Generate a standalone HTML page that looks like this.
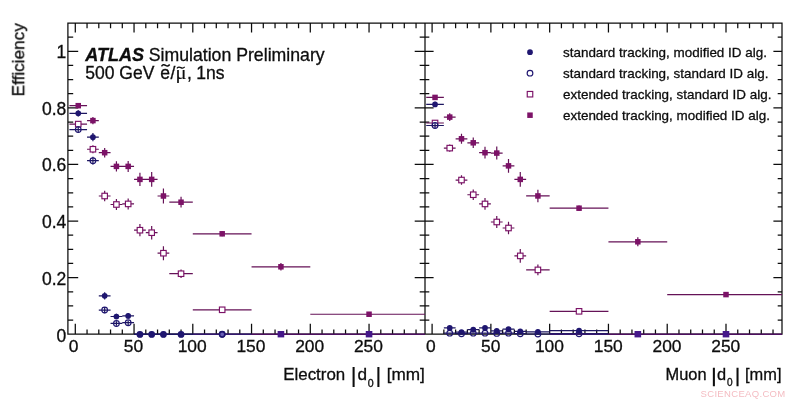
<!DOCTYPE html>
<html><head><meta charset="utf-8"><title>ATLAS efficiency</title>
<style>
html,body{margin:0;padding:0;background:#fff;}
body{width:800px;height:403px;overflow:hidden;font-family:"Liberation Sans",sans-serif;}
svg{display:block;}
</style></head><body>
<svg width="800" height="403" viewBox="0 0 800 403">
<rect width="800" height="403" fill="#fff"/>
<path d="M67.9 23H425V334.2H67.9ZM75.3 334.2v-10.5M75.3 23v9.6M87.05 334.2v-4.7M87.05 23v5.3M98.8 334.2v-4.7M98.8 23v5.3M110.55 334.2v-4.7M110.55 23v5.3M122.3 334.2v-4.7M122.3 23v5.3M134.05 334.2v-10.5M134.05 23v9.6M145.8 334.2v-4.7M145.8 23v5.3M157.55 334.2v-4.7M157.55 23v5.3M169.3 334.2v-4.7M169.3 23v5.3M181.05 334.2v-4.7M181.05 23v5.3M192.8 334.2v-10.5M192.8 23v9.6M204.55 334.2v-4.7M204.55 23v5.3M216.3 334.2v-4.7M216.3 23v5.3M228.05 334.2v-4.7M228.05 23v5.3M239.8 334.2v-4.7M239.8 23v5.3M251.55 334.2v-10.5M251.55 23v9.6M263.3 334.2v-4.7M263.3 23v5.3M275.05 334.2v-4.7M275.05 23v5.3M286.8 334.2v-4.7M286.8 23v5.3M298.55 334.2v-4.7M298.55 23v5.3M310.3 334.2v-10.5M310.3 23v9.6M322.05 334.2v-4.7M322.05 23v5.3M333.8 334.2v-4.7M333.8 23v5.3M345.55 334.2v-4.7M345.55 23v5.3M357.3 334.2v-4.7M357.3 23v5.3M369.05 334.2v-10.5M369.05 23v9.6M380.8 334.2v-4.7M380.8 23v5.3M392.55 334.2v-4.7M392.55 23v5.3M404.3 334.2v-4.7M404.3 23v5.3M416.05 334.2v-4.7M416.05 23v5.3M67.9 320.06h5.3M425 320.06h-5.3M67.9 305.91h5.3M425 305.91h-5.3M67.9 291.76h5.3M425 291.76h-5.3M67.9 277.62h10.3M425 277.62h-10.3M67.9 263.48h5.3M425 263.48h-5.3M67.9 249.33h5.3M425 249.33h-5.3M67.9 235.19h5.3M425 235.19h-5.3M67.9 221.04h10.3M425 221.04h-10.3M67.9 206.89h5.3M425 206.89h-5.3M67.9 192.75h5.3M425 192.75h-5.3M67.9 178.6h5.3M425 178.6h-5.3M67.9 164.46h10.3M425 164.46h-10.3M67.9 150.31h5.3M425 150.31h-5.3M67.9 136.17h5.3M425 136.17h-5.3M67.9 122.03h5.3M425 122.03h-5.3M67.9 107.88h10.3M425 107.88h-10.3M67.9 93.73h5.3M425 93.73h-5.3M67.9 79.59h5.3M425 79.59h-5.3M67.9 65.44h5.3M425 65.44h-5.3M67.9 51.3h10.3M425 51.3h-10.3M67.9 37.15h5.3M425 37.15h-5.3M425 23H782V334.2H425ZM432.1 334.2v-10.5M432.1 23v9.6M443.86 334.2v-4.7M443.86 23v5.3M455.61 334.2v-4.7M455.61 23v5.3M467.37 334.2v-4.7M467.37 23v5.3M479.12 334.2v-4.7M479.12 23v5.3M490.88 334.2v-10.5M490.88 23v9.6M502.64 334.2v-4.7M502.64 23v5.3M514.39 334.2v-4.7M514.39 23v5.3M526.15 334.2v-4.7M526.15 23v5.3M537.9 334.2v-4.7M537.9 23v5.3M549.66 334.2v-10.5M549.66 23v9.6M561.42 334.2v-4.7M561.42 23v5.3M573.17 334.2v-4.7M573.17 23v5.3M584.93 334.2v-4.7M584.93 23v5.3M596.68 334.2v-4.7M596.68 23v5.3M608.44 334.2v-10.5M608.44 23v9.6M620.2 334.2v-4.7M620.2 23v5.3M631.95 334.2v-4.7M631.95 23v5.3M643.71 334.2v-4.7M643.71 23v5.3M655.46 334.2v-4.7M655.46 23v5.3M667.22 334.2v-10.5M667.22 23v9.6M678.98 334.2v-4.7M678.98 23v5.3M690.73 334.2v-4.7M690.73 23v5.3M702.49 334.2v-4.7M702.49 23v5.3M714.24 334.2v-4.7M714.24 23v5.3M726 334.2v-10.5M726 23v9.6M737.76 334.2v-4.7M737.76 23v5.3M749.51 334.2v-4.7M749.51 23v5.3M761.27 334.2v-4.7M761.27 23v5.3M773.02 334.2v-4.7M773.02 23v5.3M425 320.06h4.3M782 320.06h-4.3M425 305.91h4.3M782 305.91h-4.3M425 291.76h4.3M782 291.76h-4.3M425 277.62h8.6M782 277.62h-8.6M425 263.48h4.3M782 263.48h-4.3M425 249.33h4.3M782 249.33h-4.3M425 235.19h4.3M782 235.19h-4.3M425 221.04h8.6M782 221.04h-8.6M425 206.89h4.3M782 206.89h-4.3M425 192.75h4.3M782 192.75h-4.3M425 178.6h4.3M782 178.6h-4.3M425 164.46h8.6M782 164.46h-8.6M425 150.31h4.3M782 150.31h-4.3M425 136.17h4.3M782 136.17h-4.3M425 122.03h4.3M782 122.03h-4.3M425 107.88h8.6M782 107.88h-8.6M425 93.73h4.3M782 93.73h-4.3M425 79.59h4.3M782 79.59h-4.3M425 65.44h4.3M782 65.44h-4.3M425 51.3h8.6M782 51.3h-8.6M425 37.15h4.3M782 37.15h-4.3" fill="none" stroke="#0c0c0c" stroke-width="1.25"/>
<clipPath id="cp0"><rect x="67.9" y="23.0" width="357.1" height="316.0"/></clipPath>
<g clip-path="url(#cp0)">
<path d="M69.42 105.68H87.05M78.24 103.42V107.94M87.05 120.6H98.8M92.92 117.07V124.13M98.8 152.69H110.55M104.67 147.95V157.44M110.55 166.39H122.3M116.42 161.31V171.48M122.3 166.39H134.05M128.18 160.88V171.9M134.05 179.39H145.8M139.93 172.69V186.08M145.8 179.39H157.55M151.68 172.04V186.73M157.55 196H169.3M163.43 188.51V203.49M169.3 202.21H192.8M181.05 196.85V207.58M192.8 233.8H251.55M222.18 231.25V236.34M251.55 266.79H310.3M280.93 263.12V270.47M310.3 314.23H425M369.05 312.25V316.2" fill="none" stroke="#651257" stroke-width="1.2"/>
<rect x="75.49" y="102.93" width="5.5" height="5.5" fill="#7c1267"/>
<rect x="90.17" y="117.85" width="5.5" height="5.5" fill="#7c1267"/>
<rect x="101.92" y="149.94" width="5.5" height="5.5" fill="#7c1267"/>
<rect x="113.67" y="163.64" width="5.5" height="5.5" fill="#7c1267"/>
<rect x="125.43" y="163.64" width="5.5" height="5.5" fill="#7c1267"/>
<rect x="137.18" y="176.64" width="5.5" height="5.5" fill="#7c1267"/>
<rect x="148.93" y="176.64" width="5.5" height="5.5" fill="#7c1267"/>
<rect x="160.68" y="193.25" width="5.5" height="5.5" fill="#7c1267"/>
<rect x="178.3" y="199.46" width="5.5" height="5.5" fill="#7c1267"/>
<rect x="219.43" y="231.05" width="5.5" height="5.5" fill="#7c1267"/>
<rect x="278.18" y="264.04" width="5.5" height="5.5" fill="#7c1267"/>
<rect x="366.3" y="311.48" width="5.5" height="5.5" fill="#7c1267"/>
<path d="M69.42 124.1H87.05M78.24 121.28V126.93M87.05 149.25H98.8M92.92 145.23V153.26M98.8 196H110.55M104.67 190.74V201.25M110.55 204.5H122.3M116.42 198.99V210.01M122.3 203.91H134.05M128.18 198.4V209.42M134.05 230.21H145.8M139.93 224.11V236.31M145.8 232.7H157.55M151.68 226V239.39M157.55 253.21H169.3M163.43 246.28V260.13M169.3 273.71H192.8M181.05 269.48V277.95M192.8 309.79H251.55M222.18 307.53V312.05" fill="none" stroke="#651257" stroke-width="1.2"/>
<rect x="75.49" y="121.35" width="5.5" height="5.5" fill="#fff" stroke="#7c1267" stroke-width="1.15"/>
<rect x="90.17" y="146.5" width="5.5" height="5.5" fill="#fff" stroke="#7c1267" stroke-width="1.15"/>
<rect x="101.92" y="193.25" width="5.5" height="5.5" fill="#fff" stroke="#7c1267" stroke-width="1.15"/>
<rect x="113.67" y="201.75" width="5.5" height="5.5" fill="#fff" stroke="#7c1267" stroke-width="1.15"/>
<rect x="125.43" y="201.16" width="5.5" height="5.5" fill="#fff" stroke="#7c1267" stroke-width="1.15"/>
<rect x="137.18" y="227.46" width="5.5" height="5.5" fill="#fff" stroke="#7c1267" stroke-width="1.15"/>
<rect x="148.93" y="229.95" width="5.5" height="5.5" fill="#fff" stroke="#7c1267" stroke-width="1.15"/>
<rect x="160.68" y="250.46" width="5.5" height="5.5" fill="#fff" stroke="#7c1267" stroke-width="1.15"/>
<rect x="178.3" y="270.96" width="5.5" height="5.5" fill="#fff" stroke="#7c1267" stroke-width="1.15"/>
<rect x="219.43" y="307.04" width="5.5" height="5.5" fill="#fff" stroke="#7c1267" stroke-width="1.15"/>
<path d="M69.42 113.31H87.05M78.24 110.2V116.42M87.05 137.21H98.8M92.92 133.11V141.31M98.8 295.81H110.55M104.67 292.13V299.48M110.55 316.49H122.3M116.42 313.66V319.31M122.3 315.92H134.05M128.18 313.1V318.75M134.05 334.42H145.8M145.8 334.42H157.55M157.55 334.42H169.3M169.3 334.42H192.8" fill="none" stroke="#1d1660" stroke-width="1.2"/>
<circle cx="78.24" cy="113.31" r="2.85" fill="#1f1670"/>
<circle cx="92.92" cy="137.21" r="2.85" fill="#1f1670"/>
<circle cx="104.67" cy="295.81" r="2.85" fill="#1f1670"/>
<circle cx="116.42" cy="316.49" r="2.85" fill="#1f1670"/>
<circle cx="128.18" cy="315.92" r="2.85" fill="#1f1670"/>
<circle cx="139.93" cy="334.42" r="2.85" fill="#1f1670"/>
<circle cx="151.68" cy="334.42" r="2.85" fill="#1f1670"/>
<circle cx="163.43" cy="334.42" r="2.85" fill="#1f1670"/>
<circle cx="181.05" cy="334.42" r="2.85" fill="#1f1670"/>
<path d="M69.42 129.61H87.05M78.24 126.5V132.72M87.05 160.69H98.8M92.92 156.73V164.64M98.8 310.04H110.55M104.67 306.94V313.15M110.55 323.46H122.3M116.42 321.2V325.72M122.3 322.7H134.05M128.18 320.44V324.96M192.8 334.28H251.55" fill="none" stroke="#1d1660" stroke-width="1.2"/>
<circle cx="78.24" cy="129.61" r="2.85" fill="none" stroke="#1f1670" stroke-width="1.15"/>
<circle cx="92.92" cy="160.69" r="2.85" fill="none" stroke="#1f1670" stroke-width="1.15"/>
<circle cx="104.67" cy="310.04" r="2.85" fill="none" stroke="#1f1670" stroke-width="1.15"/>
<circle cx="116.42" cy="323.46" r="2.85" fill="none" stroke="#1f1670" stroke-width="1.15"/>
<circle cx="128.18" cy="322.7" r="2.85" fill="none" stroke="#1f1670" stroke-width="1.15"/>
<circle cx="222.18" cy="334.28" r="2.85" fill="none" stroke="#1f1670" stroke-width="1.15"/>
<path d="M192.8 334.3H251.55" stroke="#34186e" stroke-width="1.45"/>
<path d="M251.55 334.3H425" stroke="#4e1060" stroke-width="1.45"/>
<rect x="277.62" y="331" width="6.6" height="6.4" fill="#45188a"/>
<rect x="365.75" y="331" width="6.6" height="6.4" fill="#45188a"/>
<path d="M134.05 334.3H192.8" stroke="#1d1660" stroke-width="1.5"/>
<circle cx="139.93" cy="334.4" r="3.35" fill="#1f1670"/>
<circle cx="151.68" cy="334.4" r="3.35" fill="#1f1670"/>
<circle cx="163.43" cy="334.4" r="3.35" fill="#1f1670"/>
<circle cx="181.05" cy="334.4" r="3.35" fill="#1f1670"/>
<circle cx="222.18" cy="334.3" r="2.6" fill="#6a60b8" stroke="#1f1670" stroke-width="1.5"/>
</g>
<clipPath id="cp1"><rect x="425" y="23.0" width="357" height="316.0"/></clipPath>
<g clip-path="url(#cp1)">
<path d="M426.22 97.41H443.86M435.04 95.15V99.67M443.86 117.1H455.61M449.73 113.14V121.05M455.61 138.79H467.37M461.49 133.79V143.79M467.37 142.8H479.12M473.25 137.55V148.06M479.12 152.69H490.88M485 146.76V158.62M490.88 153.09H502.64M496.76 146.59V159.58M502.64 165.86H514.39M508.51 159.08V172.64M514.39 179.39H526.15M520.27 171.96V186.82M526.15 195.94H549.66M537.9 189.73V202.16M549.66 208.2H608.44M579.05 205.38V211.03M608.44 241.79H667.22M637.83 237.27V246.31M667.22 294.59H782M726 292.33V296.85" fill="none" stroke="#651257" stroke-width="1.2"/>
<rect x="432.29" y="94.66" width="5.5" height="5.5" fill="#7c1267"/>
<rect x="446.98" y="114.35" width="5.5" height="5.5" fill="#7c1267"/>
<rect x="458.74" y="136.04" width="5.5" height="5.5" fill="#7c1267"/>
<rect x="470.5" y="140.05" width="5.5" height="5.5" fill="#7c1267"/>
<rect x="482.25" y="149.94" width="5.5" height="5.5" fill="#7c1267"/>
<rect x="494.01" y="150.34" width="5.5" height="5.5" fill="#7c1267"/>
<rect x="505.76" y="163.11" width="5.5" height="5.5" fill="#7c1267"/>
<rect x="517.52" y="176.64" width="5.5" height="5.5" fill="#7c1267"/>
<rect x="535.15" y="193.19" width="5.5" height="5.5" fill="#7c1267"/>
<rect x="576.3" y="205.45" width="5.5" height="5.5" fill="#7c1267"/>
<rect x="635.08" y="239.04" width="5.5" height="5.5" fill="#7c1267"/>
<rect x="723.25" y="291.84" width="5.5" height="5.5" fill="#7c1267"/>
<path d="M426.22 123H443.86M435.04 120.46V125.54M443.86 148.11H455.61M449.73 144.44V151.79M455.61 180.04H467.37M461.49 175.29V184.78M467.37 194.73H479.12M473.25 189.47V199.98M479.12 203.94H490.88M485 198V209.87M490.88 221.99H502.64M496.76 216.06V227.92M502.64 228.01H514.39M508.51 221.79V234.22M514.39 255.89H526.15M520.27 248.94V262.84M526.15 269.9H549.66M537.9 264.62V275.18M549.66 311.32H608.44M579.05 309.06V313.58" fill="none" stroke="#651257" stroke-width="1.2"/>
<rect x="432.29" y="120.25" width="5.5" height="5.5" fill="#fff" stroke="#7c1267" stroke-width="1.15"/>
<rect x="446.98" y="145.36" width="5.5" height="5.5" fill="#fff" stroke="#7c1267" stroke-width="1.15"/>
<rect x="458.74" y="177.29" width="5.5" height="5.5" fill="#fff" stroke="#7c1267" stroke-width="1.15"/>
<rect x="470.5" y="191.98" width="5.5" height="5.5" fill="#fff" stroke="#7c1267" stroke-width="1.15"/>
<rect x="482.25" y="201.19" width="5.5" height="5.5" fill="#fff" stroke="#7c1267" stroke-width="1.15"/>
<rect x="494.01" y="219.24" width="5.5" height="5.5" fill="#fff" stroke="#7c1267" stroke-width="1.15"/>
<rect x="505.76" y="225.26" width="5.5" height="5.5" fill="#fff" stroke="#7c1267" stroke-width="1.15"/>
<rect x="517.52" y="253.14" width="5.5" height="5.5" fill="#fff" stroke="#7c1267" stroke-width="1.15"/>
<rect x="535.15" y="267.15" width="5.5" height="5.5" fill="#fff" stroke="#7c1267" stroke-width="1.15"/>
<rect x="576.3" y="308.57" width="5.5" height="5.5" fill="#fff" stroke="#7c1267" stroke-width="1.15"/>
<path d="M426.22 104.41H443.86M435.04 101.87V106.95M443.86 327.95H455.61M449.73 326.82V329.08M455.61 332.11H467.37M461.49 331.26V332.95M467.37 329.59H479.12M473.25 328.46V330.72M479.12 327.95H490.88M485 326.82V329.08M490.88 330.89H502.64M496.76 329.76V332.02M502.64 329.2H514.39M508.51 328.07V330.33M514.39 331.46H526.15M520.27 330.61V332.31M526.15 331.8H549.66M537.9 330.95V332.64M549.66 330.61H608.44M579.05 329.76V331.46" fill="none" stroke="#1d1660" stroke-width="1.2"/>
<circle cx="435.04" cy="104.41" r="2.85" fill="#1f1670"/>
<circle cx="449.73" cy="327.95" r="2.85" fill="#1f1670"/>
<circle cx="461.49" cy="332.11" r="2.85" fill="#1f1670"/>
<circle cx="473.25" cy="329.59" r="2.85" fill="#1f1670"/>
<circle cx="485" cy="327.95" r="2.85" fill="#1f1670"/>
<circle cx="496.76" cy="330.89" r="2.85" fill="#1f1670"/>
<circle cx="508.51" cy="329.2" r="2.85" fill="#1f1670"/>
<circle cx="520.27" cy="331.46" r="2.85" fill="#1f1670"/>
<circle cx="537.9" cy="331.8" r="2.85" fill="#1f1670"/>
<circle cx="579.05" cy="330.61" r="2.85" fill="#1f1670"/>
<path d="M426.22 125.52H443.86M435.04 122.69V128.34M443.86 333.15H455.61M449.73 332.59V333.72M455.61 333.72H467.37M461.49 333.15V334.28M467.37 333.15H479.12M473.25 332.59V333.72M479.12 333.15H490.88M485 332.59V333.72M490.88 333.44H502.64M496.76 332.87V334M502.64 333.15H514.39M508.51 332.59V333.72M514.39 333.72H526.15M520.27 333.15V334.28M526.15 334H549.66M537.9 333.44V334.56M549.66 333.72H608.44M579.05 333.15V334.28" fill="none" stroke="#1d1660" stroke-width="1.2"/>
<circle cx="435.04" cy="125.52" r="2.85" fill="none" stroke="#1f1670" stroke-width="1.15"/>
<circle cx="449.73" cy="333.15" r="2.85" fill="none" stroke="#1f1670" stroke-width="1.15"/>
<circle cx="461.49" cy="333.72" r="2.85" fill="none" stroke="#1f1670" stroke-width="1.15"/>
<circle cx="473.25" cy="333.15" r="2.85" fill="none" stroke="#1f1670" stroke-width="1.15"/>
<circle cx="485" cy="333.15" r="2.85" fill="none" stroke="#1f1670" stroke-width="1.15"/>
<circle cx="496.76" cy="333.44" r="2.85" fill="none" stroke="#1f1670" stroke-width="1.15"/>
<circle cx="508.51" cy="333.15" r="2.85" fill="none" stroke="#1f1670" stroke-width="1.15"/>
<circle cx="520.27" cy="333.72" r="2.85" fill="none" stroke="#1f1670" stroke-width="1.15"/>
<circle cx="537.9" cy="334" r="2.85" fill="none" stroke="#1f1670" stroke-width="1.15"/>
<circle cx="579.05" cy="333.72" r="2.85" fill="none" stroke="#1f1670" stroke-width="1.15"/>
<path d="M549.66 334.3H608.44" stroke="#34186e" stroke-width="1.45"/>
<path d="M608.44 334.3H782" stroke="#4e1060" stroke-width="1.45"/>
<rect x="634.53" y="331" width="6.6" height="6.4" fill="#45188a"/>
<rect x="722.7" y="331" width="6.6" height="6.4" fill="#45188a"/>
</g>
<g opacity="0.995">
<text x="66.3" y="341.8" text-anchor="end" font-family="Liberation Sans, sans-serif" stroke="#0c0c0c" stroke-width="0.3" font-size="17.5" fill="#0c0c0c">0</text>
<text x="66.3" y="284.62" text-anchor="end" font-family="Liberation Sans, sans-serif" stroke="#0c0c0c" stroke-width="0.3" font-size="17.5" fill="#0c0c0c">0.2</text>
<text x="66.3" y="228.04" text-anchor="end" font-family="Liberation Sans, sans-serif" stroke="#0c0c0c" stroke-width="0.3" font-size="17.5" fill="#0c0c0c">0.4</text>
<text x="66.3" y="171.46" text-anchor="end" font-family="Liberation Sans, sans-serif" stroke="#0c0c0c" stroke-width="0.3" font-size="17.5" fill="#0c0c0c">0.6</text>
<text x="66.3" y="114.88" text-anchor="end" font-family="Liberation Sans, sans-serif" stroke="#0c0c0c" stroke-width="0.3" font-size="17.5" fill="#0c0c0c">0.8</text>
<text x="66.3" y="58.3" text-anchor="end" font-family="Liberation Sans, sans-serif" stroke="#0c0c0c" stroke-width="0.3" font-size="17.5" fill="#0c0c0c">1</text>
<text x="73.7" y="352.2" text-anchor="middle" font-family="Liberation Sans, sans-serif" stroke="#0c0c0c" stroke-width="0.3" font-size="17.4" fill="#0c0c0c">0</text>
<text x="133.45" y="352.2" text-anchor="middle" font-family="Liberation Sans, sans-serif" stroke="#0c0c0c" stroke-width="0.3" font-size="17.4" fill="#0c0c0c">50</text>
<text x="192.2" y="352.2" text-anchor="middle" font-family="Liberation Sans, sans-serif" stroke="#0c0c0c" stroke-width="0.3" font-size="17.4" fill="#0c0c0c">100</text>
<text x="250.95" y="352.2" text-anchor="middle" font-family="Liberation Sans, sans-serif" stroke="#0c0c0c" stroke-width="0.3" font-size="17.4" fill="#0c0c0c">150</text>
<text x="309.7" y="352.2" text-anchor="middle" font-family="Liberation Sans, sans-serif" stroke="#0c0c0c" stroke-width="0.3" font-size="17.4" fill="#0c0c0c">200</text>
<text x="368.45" y="352.2" text-anchor="middle" font-family="Liberation Sans, sans-serif" stroke="#0c0c0c" stroke-width="0.3" font-size="17.4" fill="#0c0c0c">250</text>
<text x="430.9" y="352.2" text-anchor="middle" font-family="Liberation Sans, sans-serif" stroke="#0c0c0c" stroke-width="0.3" font-size="17.4" fill="#0c0c0c">0</text>
<text x="490.68" y="352.2" text-anchor="middle" font-family="Liberation Sans, sans-serif" stroke="#0c0c0c" stroke-width="0.3" font-size="17.4" fill="#0c0c0c">50</text>
<text x="549.46" y="352.2" text-anchor="middle" font-family="Liberation Sans, sans-serif" stroke="#0c0c0c" stroke-width="0.3" font-size="17.4" fill="#0c0c0c">100</text>
<text x="608.24" y="352.2" text-anchor="middle" font-family="Liberation Sans, sans-serif" stroke="#0c0c0c" stroke-width="0.3" font-size="17.4" fill="#0c0c0c">150</text>
<text x="667.02" y="352.2" text-anchor="middle" font-family="Liberation Sans, sans-serif" stroke="#0c0c0c" stroke-width="0.3" font-size="17.4" fill="#0c0c0c">200</text>
<text x="725.8" y="352.2" text-anchor="middle" font-family="Liberation Sans, sans-serif" stroke="#0c0c0c" stroke-width="0.3" font-size="17.4" fill="#0c0c0c">250</text>
<text transform="translate(24.2,23.2) rotate(-90)" text-anchor="end" font-family="Liberation Sans, sans-serif" stroke="#0c0c0c" stroke-width="0.3" font-size="17.2" fill="#0c0c0c">Efficiency</text>
<text x="345.2" y="380.3" text-anchor="end" font-family="Liberation Sans, sans-serif" stroke="#0c0c0c" stroke-width="0.3" font-size="16.9" fill="#0c0c0c">Electron</text>
<path d="M353.6 367.0V386.9M378.4 367.0V386.9" stroke="#0c0c0c" stroke-width="2.05"/>
<text x="357.4" y="380.3" font-family="Liberation Sans, sans-serif" stroke="#0c0c0c" stroke-width="0.3" font-size="17.2" fill="#0c0c0c">d</text>
<text x="367.7" y="386.7" font-family="Liberation Sans, sans-serif" stroke="#0c0c0c" stroke-width="0.3" font-size="10.6" fill="#0c0c0c">0</text>
<text x="424.9" y="380.3" text-anchor="end" font-family="Liberation Sans, sans-serif" stroke="#0c0c0c" stroke-width="0.3" font-size="17.2" fill="#0c0c0c">[mm]</text>
<text x="706.53" y="380.0" text-anchor="end" font-family="Liberation Sans, sans-serif" stroke="#0c0c0c" stroke-width="0.3" font-size="16.4" fill="#0c0c0c">Muon</text>
<path d="M713.88 367.8V386.2M737.53 367.8V386.2" stroke="#0c0c0c" stroke-width="2.05"/>
<text x="717.1" y="380.0" font-family="Liberation Sans, sans-serif" stroke="#0c0c0c" stroke-width="0.3" font-size="16.4" fill="#0c0c0c">d</text>
<text x="726.92" y="385.7" font-family="Liberation Sans, sans-serif" stroke="#0c0c0c" stroke-width="0.3" font-size="10.11" fill="#0c0c0c">0</text>
<text x="781.46" y="380.0" text-anchor="end" font-family="Liberation Sans, sans-serif" stroke="#0c0c0c" stroke-width="0.3" font-size="16.4" fill="#0c0c0c">[mm]</text>
<text x="85.2" y="61.0" font-family="Liberation Sans, sans-serif" stroke="#0c0c0c" stroke-width="0.3" font-size="18.1" font-weight="bold" font-style="italic" fill="#0c0c0c">ATLAS</text>
<text x="148.7" y="61.0" font-family="Liberation Sans, sans-serif" stroke="#0c0c0c" stroke-width="0.3" font-size="17.7" fill="#0c0c0c">Simulation Preliminary</text>
<text x="85.2" y="78.9" font-family="Liberation Sans, sans-serif" stroke="#0c0c0c" stroke-width="0.3" font-size="17.55" fill="#0c0c0c">500 GeV</text>
<text x="160.2" y="78.9" font-family="Liberation Sans, sans-serif" stroke="#0c0c0c" stroke-width="0.3" font-size="17.55" fill="#0c0c0c">e</text>
<text x="170.6" y="78.9" font-family="Liberation Sans, sans-serif" stroke="#0c0c0c" stroke-width="0.3" font-size="17.55" fill="#0c0c0c">/</text>
<text transform="translate(175.5,78.9) scale(1.17,1.03)" font-family="Liberation Serif, serif" stroke="#0c0c0c" stroke-width="0.15" font-size="17.55" fill="#0c0c0c">μ</text>
<text x="186.9" y="78.9" font-family="Liberation Sans, sans-serif" stroke="#0c0c0c" stroke-width="0.3" font-size="17.55" fill="#0c0c0c">,</text>
<text x="196.2" y="78.9" font-family="Liberation Sans, sans-serif" stroke="#0c0c0c" stroke-width="0.3" font-size="17.55" fill="#0c0c0c">1ns</text>
<path d="M161.5 66.3c1.3-1.9 2.7-1.9 4.1-.9s2.8 1 4.1-.9" fill="none" stroke="#0c0c0c" stroke-width="1.45"/>
<path d="M176.9 68.3c1.2-1.4 2.6-1.4 3.9-.7s2.7.7 3.9-.7" fill="none" stroke="#0c0c0c" stroke-width="1.25"/>
<circle cx="530" cy="52.2" r="2.85" fill="#1f1670"/>
<text x="563.0" y="56.9" font-family="Liberation Sans, sans-serif" stroke="#0c0c0c" stroke-width="0.3" font-size="13.45" fill="#0c0c0c">standard tracking, modified ID alg.</text>
<circle cx="530" cy="73.2" r="2.85" fill="none" stroke="#1f1670" stroke-width="1.15"/>
<text x="563.0" y="77.9" font-family="Liberation Sans, sans-serif" stroke="#0c0c0c" stroke-width="0.3" font-size="13.45" fill="#0c0c0c">standard tracking, standard ID alg.</text>
<rect x="527.25" y="91.45" width="5.5" height="5.5" fill="#fff" stroke="#7c1267" stroke-width="1.15"/>
<text x="563.0" y="98.9" font-family="Liberation Sans, sans-serif" stroke="#0c0c0c" stroke-width="0.3" font-size="13.45" fill="#0c0c0c">extended tracking, standard ID alg.</text>
<rect x="527.25" y="112.45" width="5.5" height="5.5" fill="#7c1267"/>
<text x="563.0" y="119.9" font-family="Liberation Sans, sans-serif" stroke="#0c0c0c" stroke-width="0.3" font-size="13.45" fill="#0c0c0c">extended tracking, modified ID alg.</text>
<text x="785.6" y="397.4" text-anchor="end" font-family="Liberation Sans, sans-serif" font-size="9.5" fill="#f4bcc2" letter-spacing="0.33">SCIENCEAQ.COM</text>
</g>
</svg>
</body></html>
